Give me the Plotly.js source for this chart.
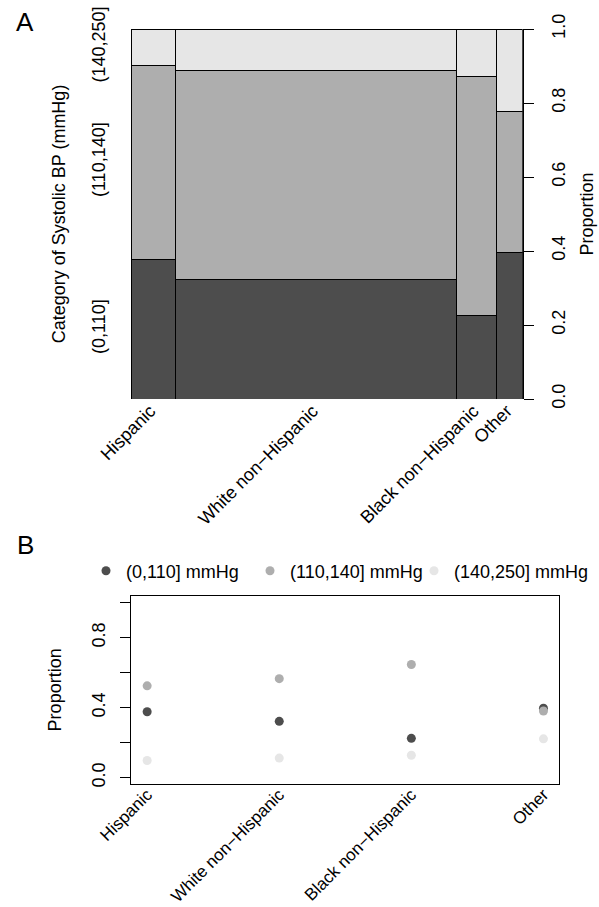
<!DOCTYPE html>
<html><head><meta charset="utf-8">
<script src="https://cdn.plot.ly/plotly-3.0.1.min.js"></script>
<style>html,body{margin:0;padding:0;background:#fff}#chart{width:599px;height:907px}</style>
</head><body><div id="chart"></div>
<script>
// ---- data ----
const groups = ["Hispanic", "White non\u2212Hispanic", "Black non\u2212Hispanic", "Other"];
const groupShare = [0.114, 0.716, 0.104, 0.066];          // share of sample (bar widths in panel A)
const bpCategories = ["(0,110]", "(110,140]", "(140,250]"];
const legendLabels = ["(0,110] mmHg", "(110,140] mmHg", "(140,250] mmHg"];
const propLow  = [0.377, 0.322, 0.225, 0.397];
const propMid  = [0.525, 0.566, 0.647, 0.381];
const propHigh = [0.098, 0.112, 0.128, 0.222];
const propTicks = [0, 0.2, 0.4, 0.6, 0.8, 1.0];
const propTickText = ["0.0", "0.2", "0.4", "0.6", "0.8", "1.0"];
const propTickTextB = ["0.0", "", "0.4", "", "0.8", ""];

// ---- styling ----
const W = 599, H = 907;
const greys = ["#4D4D4D", "#AEAEAE", "#E6E6E6"];
const legendWidths = [119, 119, 136];
const FONT = "Liberation Sans, Arial, Helvetica, sans-serif";
const px = v => v / W, py = v => 1 - v / H;

// bar geometry derived from shares
const total = groupShare.reduce((a, b) => a + b, 0);
const widths = groupShare.map(s => s / total);
const centers = [];
let acc = 0;
widths.forEach(w => { centers.push(acc + w / 2); acc += w; });

const series = [propLow, propMid, propHigh];

// left-axis label positions: midpoints of first group's segments
const firstCum = [];
let c0 = 0;
series.forEach(s => { firstCum.push(c0 + s[0] / 2); c0 += s[0]; });

const traces = [];
series.forEach((s, i) => {
  traces.push({
    type: "bar", x: centers, y: s, width: widths,
    xaxis: "x", yaxis: "y", showlegend: false, hoverinfo: "skip",
    marker: { color: greys[i], line: { color: "#000", width: 1 } }
  });
});
series.forEach((s, i) => {
  traces.push({
    type: "scatter", mode: "markers", x: groups, y: s,
    xaxis: "x2", yaxis: "y2", name: legendLabels[i], legendwidth: legendWidths[i],
    marker: { color: greys[i], size: 9 }
  });
});
// invisible trace to activate left axis of panel A
traces.push({ type: "scatter", x: [0], y: [0], xaxis: "x", yaxis: "y3", mode: "markers",
  marker: { opacity: 0 }, showlegend: false, hoverinfo: "skip" });

const tickFont = { family: FONT, size: 18, color: "#000" };
const titleFont = { family: FONT, size: 18, color: "#000" };

const layout = {
  width: W, height: H,
  margin: { l: 0, r: 0, t: 0, b: 0 },
  paper_bgcolor: "#fff", plot_bgcolor: "rgba(0,0,0,0)",
  barmode: "stack", bargap: 0,
  font: { family: FONT, size: 18, color: "#000" },
  xaxis: {
    domain: [px(131), px(522.7)], anchor: "y", range: [0, 1],
    tickmode: "array", tickvals: centers, ticktext: groups, tickangle: -45,
    ticks: "", showline: false, showgrid: false, zeroline: false,
    tickfont: tickFont, ticklabelstandoff: -3, ticklabelshift: -3
  },
  yaxis: {
    domain: [py(399), py(29)], anchor: "x", side: "right", range: [0, 1],
    tickmode: "array", tickvals: propTicks, ticktext: propTickText, tickangle: -90,
    ticks: "outside", ticklen: 10, tickwidth: 1, tickcolor: "#000",
    showline: true, linecolor: "#000", linewidth: 1,
    showgrid: false, zeroline: false, tickfont: tickFont, ticklabelstandoff: 10,
    title: { text: "Proportion", font: titleFont, standoff: 12 }
  },
  yaxis3: {
    overlaying: "y", anchor: "x", side: "left", range: [0, 1],
    tickmode: "array", tickvals: firstCum, ticktext: bpCategories, tickangle: -90,
    ticks: "", showline: false, showgrid: false, zeroline: false,
    tickfont: tickFont, ticklabelstandoff: 21,
    title: { text: "Category of Systolic BP (mmHg)", font: titleFont, standoff: 19 }
  },
  xaxis2: {
    domain: [px(131.3), px(559.3)], anchor: "y2", type: "category",
    range: [-0.12, 3.12], tickangle: -45, ticks: "",
    showline: true, mirror: true, linecolor: "#000", linewidth: 1,
    showgrid: false, zeroline: false, tickfont: { family: FONT, size: 17, color: "#000" },
    ticklabelstandoff: -7
  },
  yaxis2: {
    domain: [py(784), py(595.7)], anchor: "x2", range: [-0.036, 1.04],
    tickmode: "array", tickvals: propTicks, ticktext: propTickTextB, tickangle: -90,
    ticks: "outside", ticklen: 10, tickwidth: 1, tickcolor: "#000",
    showline: true, mirror: true, linecolor: "#000", linewidth: 1,
    showgrid: false, zeroline: false, tickfont: tickFont, ticklabelstandoff: 8,
    title: { text: "Proportion", font: titleFont, standoff: 22 }
  },
  showlegend: true,
  legend: {
    orientation: "h", traceorder: "normal", x: px(86), xanchor: "left", y: py(571), yanchor: "middle",
    font: { family: FONT, size: 18, color: "#000" },
    bgcolor: "rgba(0,0,0,0)", borderwidth: 0, tracegroupgap: 0
  },
  annotations: [
    { text: "A", x: px(25), y: py(22.5), xref: "paper", yref: "paper", showarrow: false,
      xanchor: "center", yanchor: "middle", font: { family: FONT, size: 26, color: "#000" } },
    { text: "B", x: px(25), y: py(545), xref: "paper", yref: "paper", showarrow: false,
      xanchor: "center", yanchor: "middle", font: { family: FONT, size: 26, color: "#000" } }
  ]
};

Plotly.newPlot("chart", traces, layout, { displayModeBar: false, staticPlot: true });
</script>
</body></html>
